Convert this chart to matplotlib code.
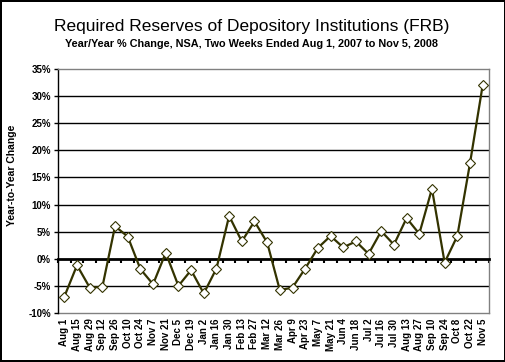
import matplotlib
matplotlib.use("Agg")
import matplotlib.pyplot as plt
import numpy as np

plt.rcParams['font.family'] = ['Liberation Sans', 'DejaVu Sans']

dates = ["Aug 1", "Aug 15", "Aug 29", "Sep 12", "Sep 26", "Oct 10", "Oct 24", "Nov 7",
         "Nov 21", "Dec 5", "Dec 19", "Jan 2", "Jan 16", "Jan 30", "Feb 13", "Feb 27",
         "Mar 12", "Mar 26", "Apr 9", "Apr 23", "May 7", "May 21", "Jun 4", "Jun 18",
         "Jul 2", "Jul 16", "Jul 30", "Aug 13", "Aug 27", "Sep 10", "Sep 24", "Oct 8",
         "Oct 22", "Nov 5"]
yoy_change = [-7.0, -1.2, -5.3, -5.2, 6.0, 4.1, -1.9, -4.7,
              1.1, -5.0, -2.1, -6.4, -1.8, 7.9, 3.2, 6.9,
              3.0, -5.8, -5.3, -1.8, 2.0, 4.2, 2.1, 3.2,
              0.9, 5.1, 2.6, 7.5, 4.6, 12.9, -0.7, 4.2,
              17.6, 32.0]
y_ticks = [-10, -5, 0, 5, 10, 15, 20, 25, 30, 35]

fig = plt.figure(figsize=(5.06, 3.62), dpi=100, linewidth=1.5, edgecolor='black')
ax = fig.add_axes([0.1146, 0.1354, 0.8518, 0.674])

x = np.arange(len(dates))
ax.set_xlim(-0.5, len(dates) - 0.5)
ax.set_ylim(-10, 35)

for v in y_ticks[1:-1]:
    if v != 0:
        ax.axhline(v, color='black', linewidth=1.0, zorder=1)

ax.plot(x, yoy_change, color='#333300', linewidth=1.6, marker='D', markersize=5.5,
        markerfacecolor='white', markeredgecolor='#333300', markeredgewidth=0.8, zorder=3)

# zero axis with tick marks
ax.spines['bottom'].set_position(('data', 0))
ax.spines['bottom'].set_linewidth(2.0)
ax.spines['bottom'].set_color('black')
ax.set_xticks(np.arange(-0.5, len(dates) + 0.5, 1))
ax.tick_params(axis='x', direction='out', length=3, width=1.5, labelbottom=False, color='black')

for s in ['top', 'right']:
    ax.spines[s].set_color('#808080')
    ax.spines[s].set_linewidth(1.0)
ax.spines['left'].set_color('black')
ax.spines['left'].set_linewidth(1.0)

ax.set_yticks(y_ticks)
ax.set_yticklabels([f"{v}%" for v in y_ticks], fontsize=7, fontweight='bold')
ax.tick_params(axis='y', direction='out', length=3, width=1, pad=2)

sec = ax.secondary_xaxis('bottom')
sec.set_xticks(x)
sec.set_xticklabels(dates, rotation=90, fontsize=7, fontweight='bold')
sec.tick_params(length=0, pad=4)
sec.spines['bottom'].set_color('#808080')
sec.spines['bottom'].set_linewidth(1.0)

ax.set_ylabel("Year-to-Year Change", fontsize=7.5, fontweight='bold')
ax.yaxis.set_label_coords(-0.095, 0.566)

fig.text(0.497, 0.928, "Required Reserves of Depository Institutions (FRB)",
         ha='center', va='center', fontsize=12.5)
fig.text(0.497, 0.878, "Year/Year % Change, NSA, Two Weeks Ended Aug 1, 2007 to Nov 5, 2008",
         ha='center', va='center', fontsize=7.8, fontweight='bold')

fig.savefig("out.png", dpi=100, edgecolor=fig.get_edgecolor())
